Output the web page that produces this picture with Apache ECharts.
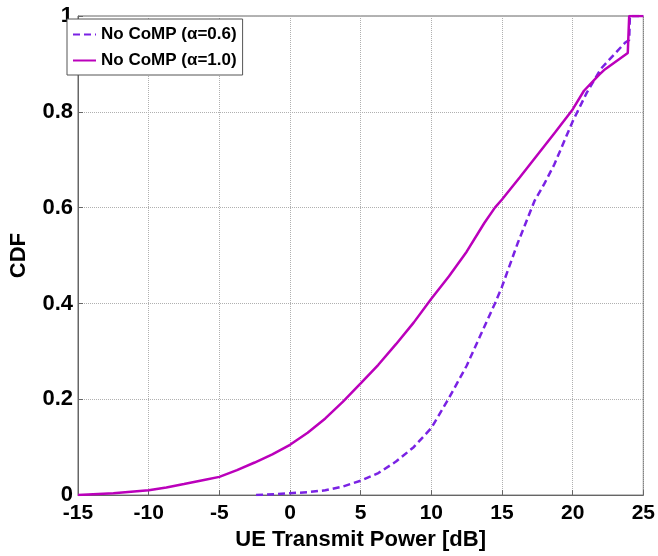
<!DOCTYPE html>
<html>
<head>
<meta charset="utf-8">
<script src="https://cdn.jsdelivr.net/npm/echarts@6/dist/echarts.min.js"></script>
<style>
  html, body { margin: 0; padding: 0; background: #fff; }
  #main { width: 658px; height: 556px; }
</style>
</head>
<body>
<div id="main"></div>
<script>
// x ticks / y ticks
const xTicks = [-15, -10, -5, 0, 5, 10, 15, 20, 25];
const yTicks = [0, 0.2, 0.4, 0.6, 0.8, 1];

// No CoMP (alpha=0.6), dashed
const powA06 = [-2.4, -1, 0, 1.25, 2.5, 3.75, 5, 6.25, 7.5, 8.75, 10, 11.2, 12.5, 13.5, 14.5, 15, 16.1, 17.3, 18, 18.7, 20, 21, 22, 23.7, 24, 24.05, 25];
const cdfA06 = [0, 0.002, 0.004, 0.006, 0.01, 0.018, 0.03, 0.046, 0.07, 0.1, 0.14, 0.2, 0.27, 0.335, 0.4, 0.435, 0.525, 0.614, 0.65, 0.69, 0.78, 0.84, 0.89, 0.944, 0.95, 1, 1];

// No CoMP (alpha=1.0), solid
const powA10 = [-15, -12.5, -10, -8.75, -7.5, -6, -5, -3.75, -2.5, -1.25, 0, 1.25, 2.5, 3.75, 5, 6.25, 7.5, 8.75, 10, 11.25, 12.5, 13.75, 14.5, 15, 16.25, 17.5, 18.75, 20, 20.8, 21.9, 22.3, 23.9, 24, 25];
const cdfA10 = [0, 0.004, 0.01, 0.016, 0.023, 0.032, 0.038, 0.052, 0.068, 0.085, 0.105, 0.13, 0.16, 0.195, 0.233, 0.272, 0.315, 0.36, 0.41, 0.457, 0.508, 0.568, 0.6, 0.617, 0.663, 0.71, 0.757, 0.805, 0.844, 0.878, 0.889, 0.923, 1, 1];

const zip = (xs, ys) => xs.map((x, i) => [x, ys[i]]);

const font = 'Liberation Sans, Arial, sans-serif';
const axisGray = '#666666';

const myChart = echarts.init(document.getElementById('main'));
myChart.setOption({
  animation: false,
  grid: {
    left: 65,
    right: 12,
    top: 16,
    bottom: 55,
    show: true,
    borderColor: axisGray,
    borderWidth: 1,
    backgroundColor: '#fff',
  },
  legend: {
    orient: 'vertical',
    left: 67,
    top: 19,
    padding: [7, 6, 6, 5],
    itemWidth: 23,
    itemHeight: 12,
    itemGap: 9,
    backgroundColor: '#fff',
    borderColor: '#555',
    borderWidth: 1,
    itemStyle: { opacity: 0 },
    textStyle: {
      color: '#000',
      fontFamily: font,
      fontWeight: 'bold',
      fontSize: 17,
    },
    data: ['No CoMP (α=0.6)', 'No CoMP (α=1.0)'],
  },
  xAxis: {
    type: 'value',
    min: -15,
    max: 25,
    interval: 5,
    name: 'UE Transmit Power [dB]',
    nameLocation: 'middle',
    nameGap: 31,
    nameTextStyle: { color: '#000', fontFamily: font, fontWeight: 'bold', fontSize: 22 },
    axisLine: { onZero: false, lineStyle: { color: axisGray } },
    axisTick: { inside: true, length: 5, lineStyle: { color: axisGray } },
    axisLabel: {
      color: '#000',
      fontFamily: font,
      fontWeight: 'bold',
      fontSize: 21,
      margin: 8,
      customValues: xTicks,
    },
    splitLine: { show: true, lineStyle: { color: '#b0b0b0', type: 'dotted' } },
  },
  yAxis: {
    type: 'value',
    min: 0,
    max: 1,
    interval: 0.2,
    name: 'CDF',
    nameLocation: 'middle',
    nameGap: 48,
    nameTextStyle: { color: '#000', fontFamily: font, fontWeight: 'bold', fontSize: 22 },
    axisLine: { show: true, onZero: false, lineStyle: { color: axisGray } },
    axisTick: { show: true, inside: true, length: 5, lineStyle: { color: axisGray } },
    axisLabel: {
      color: '#000',
      fontFamily: font,
      fontWeight: 'bold',
      fontSize: 22,
      margin: 5,
      customValues: yTicks,
    },
    splitLine: { show: true, lineStyle: { color: '#b0b0b0', type: 'dotted' } },
  },
  series: [
    {
      name: 'No CoMP (α=0.6)',
      type: 'line',
      data: zip(powA06, cdfA06),
      showSymbol: false,
      symbol: 'none',
      color: '#7a22e4',
      lineStyle: { width: 2.5, type: [7, 4], color: '#7a22e4' },
      z: 3,
    },
    {
      name: 'No CoMP (α=1.0)',
      type: 'line',
      data: zip(powA10, cdfA10),
      showSymbol: false,
      symbol: 'none',
      color: '#bb00bb',
      lineStyle: { width: 2.5, color: '#bb00bb' },
      z: 4,
    },
  ],
});
</script>
</body>
</html>
